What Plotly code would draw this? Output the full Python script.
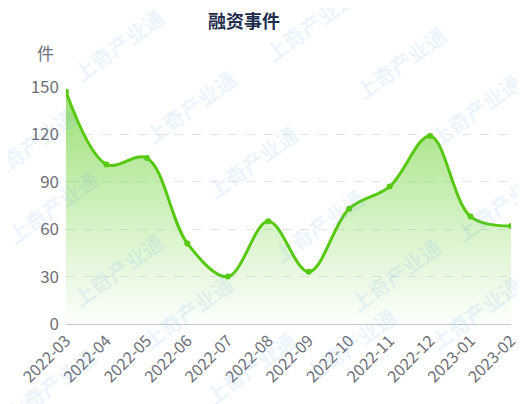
import plotly.graph_objects as go

months = ["2022-03", "2022-04", "2022-05", "2022-06", "2022-07", "2022-08",
          "2022-09", "2022-10", "2022-11", "2022-12", "2023-01", "2023-02"]
events = [147, 101, 105, 51, 30, 65, 33, 73, 87, 119, 68, 62]
y_ticks = [0, 30, 60, 90, 120, 150]
title_text = "融资事件"
unit_text = "件"
watermark_text = "上奇产业通"

# the page body has an 8px margin, so the figure is drawn 8px in from the window edge
OFF = 8
W, H = 525 - OFF, 404 - OFF
ML, MR, MT, MB = 66 - OFF, 14, 87 - OFF, 80
PW, PH = W - ML - MR, H - MT - MB

FONT = "Noto Sans CJK SC, Noto Sans, sans-serif"
GREEN = "#57c913"
GRAY = "#6e7079"


def px2paper(sx, sy):
    fx, fy = sx - OFF, sy - OFF
    return (fx - ML) / PW, (H - MB - fy) / PH


fig = go.Figure()
fig.add_trace(go.Scatter(
    x=months, y=events, mode="lines+markers",
    line=dict(color=GREEN, width=3, shape="spline", smoothing=1.0),
    marker=dict(color=GREEN, size=6),
    fill="tozeroy",
    fillgradient=dict(type="vertical", start=0, stop=max(events),
                      colorscale=[[0, "rgba(120,215,70,0.02)"],
                                  [1, "rgba(100,205,40,0.65)"]]),
    showlegend=False, hoverinfo="x+y",
))

# watermark positions (window pixels)
wm_pos = [(118, 45), (190, 107), (252, 162), (318, 226), (395, 275),
          (310, 25), (400, 63), (475, 110),
          (30, 145), (52, 207), (117, 270), (187, 312), (250, 368),
          (475, 313), (350, 345), (50, 385), (500, 205)]
anns = []
for (sx, sy) in wm_pos:
    ax, ay = px2paper(sx, sy)
    anns.append(dict(x=ax, y=ay, xref="paper", yref="paper",
                     text="<b>" + watermark_text + "</b>", showarrow=False,
                     textangle=-36,
                     font=dict(family=FONT, size=21, color="rgba(95,160,235,0.12)"),
                     xanchor="center", yanchor="middle"))
ux, uy = px2paper(45, 53)
anns.append(dict(x=ux, y=uy, xref="paper", yref="paper",
                 text=unit_text, showarrow=False,
                 font=dict(family=FONT, size=17, color=GRAY),
                 xanchor="center", yanchor="middle"))

fig.update_layout(
    width=W, height=H,
    margin=dict(l=ML, r=MR, t=MT, b=MB),
    paper_bgcolor="white", plot_bgcolor="white",
    title=dict(text="<b>" + title_text + "</b>", x=(244 - OFF) / W, xanchor="center",
               y=1 - (22 - OFF) / H, yanchor="middle",
               font=dict(family=FONT, size=18, color="#1e2c4d")),
    annotations=anns,
    xaxis=dict(type="category", range=[0, len(months) - 1],
               tickangle=-45, showgrid=False, showline=True,
               linecolor="#c4c7ce", linewidth=1, ticks="",
               tickfont=dict(family=FONT, size=16, color=GRAY),
               zeroline=False, automargin=False),
    yaxis=dict(range=[0, 150], tickvals=y_ticks, showline=False,
               showgrid=True, gridcolor="#e0e6f1", griddash="dash",
               gridwidth=1, zeroline=False, ticks="", automargin=False,
               tickfont=dict(family=FONT, size=17, color=GRAY),
               ticklabelstandoff=6),
)

fig.write_html("out.html")
